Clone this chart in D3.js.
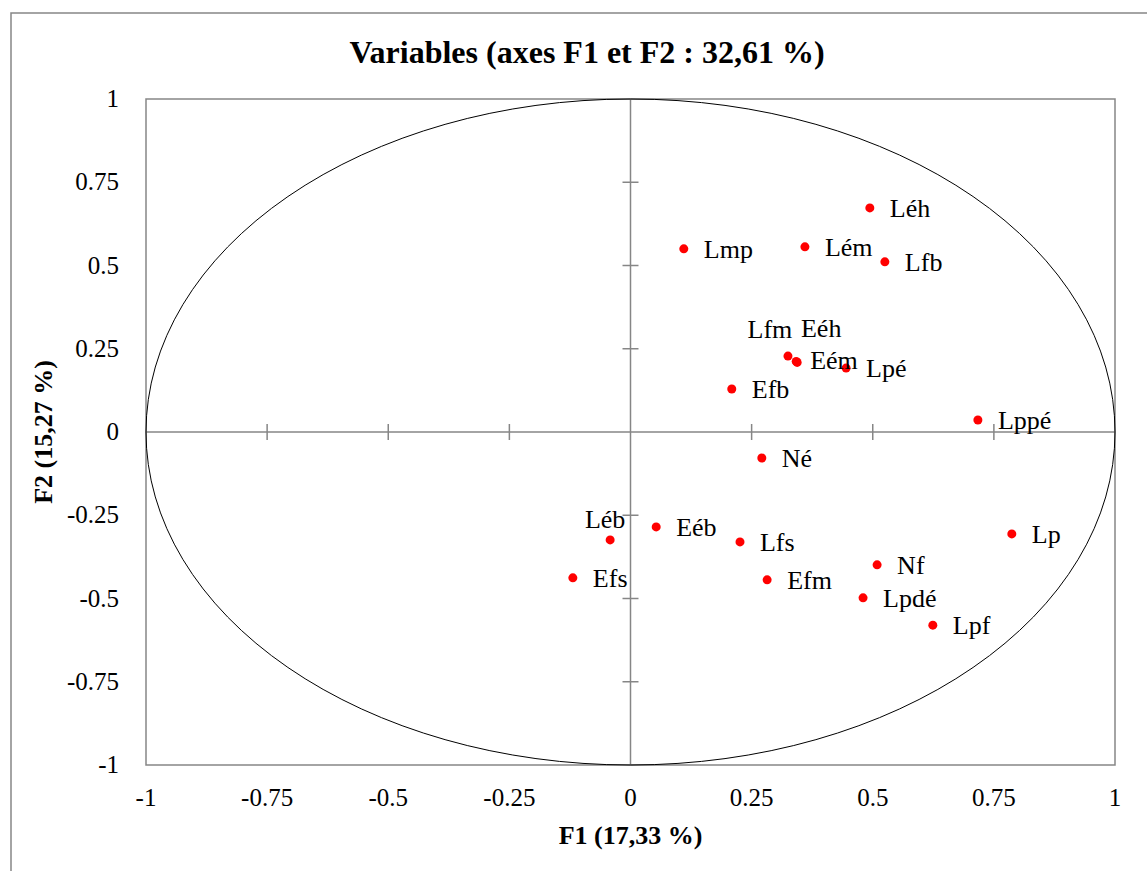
<!DOCTYPE html>
<html><head><meta charset="utf-8">
<script src="https://cdn.jsdelivr.net/npm/d3@7"></script>
<style>body{margin:0;background:#fff} svg{display:block}</style>
</head><body>
<script>
// ---- data ----
const names = ["Léh","Lmp","Lém","Lfb","Lfm","Eéh","Eém","Lpé","Efb","Lppé","Né","Léb","Eéb","Lfs","Efs","Efm","Nf","Lpdé","Lpf","Lp"];
const f1 = [0.494,0.110,0.360,0.525,0.325,0.342,0.344,0.445,0.209,0.717,0.271,-0.042,0.053,0.226,-0.119,0.282,0.509,0.480,0.624,0.787];
const f2 = [0.673,0.550,0.556,0.511,0.228,0.212,0.209,0.192,0.129,0.036,-0.078,-0.324,-0.285,-0.330,-0.438,-0.444,-0.399,-0.498,-0.580,-0.306];
const xTicks = [-1,-0.75,-0.5,-0.25,0,0.25,0.5,0.75,1];
const yTicks = [-1,-0.75,-0.5,-0.25,0,0.25,0.5,0.75,1];
const title = "Variables (axes F1 et F2 : 32,61 %)";
const xTitle = "F1 (17,33 %)";
const yTitle = "F2 (15,27 %)";

// ---- label placement (style) ----
const labelDefault = {dx:20, dy:9, anchor:"start"};
const labelSpecial = {
  "Léb": {dx:-5, dy:-12, anchor:"middle"},
  "Lfm": {dx:-18, dy:-18, anchor:"middle"},
  "Eéh": {dx:25, dy:-24, anchor:"middle"},
  "Eém": {dx:13, dy:7, anchor:"start"}
};

const W = 1147, H = 871;
const svg = d3.select("body").append("svg").attr("width", W).attr("height", H);
const font = "'Liberation Serif','Times New Roman',serif";
const grey = "#868686";

// outer frame
svg.append("rect").attr("x",11).attr("y",13).attr("width",W).attr("height",H)
  .attr("fill","none").attr("stroke",grey).attr("stroke-width",1.5);

const x = d3.scaleLinear().domain([-1,1]).range([146,1115]);
const y = d3.scaleLinear().domain([-1,1]).range([765,99]);

// plot border
svg.append("rect").attr("x",x(-1)).attr("y",y(1))
  .attr("width",x(1)-x(-1)).attr("height",y(-1)-y(1))
  .attr("fill","none").attr("stroke",grey).attr("stroke-width",1.5);

// zero axes
svg.append("line").attr("x1",x(-1)).attr("x2",x(1)).attr("y1",y(0)).attr("y2",y(0))
  .attr("stroke",grey).attr("stroke-width",1.5);
svg.append("line").attr("x1",x(0)).attr("x2",x(0)).attr("y1",y(1)).attr("y2",y(-1))
  .attr("stroke",grey).attr("stroke-width",1.5);

// cross ticks on zero axes
svg.append("g").selectAll("line").data(xTicks.filter(t=>t!==0 && Math.abs(t)!==1)).join("line")
  .attr("x1",d=>x(d)).attr("x2",d=>x(d)).attr("y1",y(0)-8).attr("y2",y(0)+8)
  .attr("stroke",grey).attr("stroke-width",1.5);
svg.append("g").selectAll("line").data(yTicks.filter(t=>t!==0 && Math.abs(t)!==1)).join("line")
  .attr("y1",d=>y(d)).attr("y2",d=>y(d)).attr("x1",x(0)-8).attr("x2",x(0)+8)
  .attr("stroke",grey).attr("stroke-width",1.5);

// circle of correlations
svg.append("ellipse").attr("cx",x(0)).attr("cy",y(0))
  .attr("rx",x(1)-x(0)).attr("ry",y(-1)-y(0))
  .attr("fill","none").attr("stroke","#000").attr("stroke-width",1);

// tick labels
svg.append("g").selectAll("text").data(xTicks).join("text")
  .attr("x",d=>x(d)).attr("y",y(-1)+41).attr("text-anchor","middle")
  .attr("font-family",font).attr("font-size",25).text(d=>String(d));
svg.append("g").selectAll("text").data(yTicks).join("text")
  .attr("x",x(-1)-27).attr("y",d=>y(d)+8).attr("text-anchor","end")
  .attr("font-family",font).attr("font-size",25).text(d=>String(d));

// titles
svg.append("text").attr("x",587).attr("y",63).attr("text-anchor","middle")
  .attr("font-family",font).attr("font-weight","bold").attr("font-size",32).text(title);
svg.append("text").attr("x",x(0)).attr("y",844).attr("text-anchor","middle")
  .attr("font-family",font).attr("font-weight","bold").attr("font-size",26).text(xTitle);
svg.append("text").attr("transform",`translate(52,${y(0)}) rotate(-90)`).attr("text-anchor","middle")
  .attr("font-family",font).attr("font-weight","bold").attr("font-size",26).text(yTitle);

// points
const data = names.map((n,i)=>({n, a:f1[i], b:f2[i]}));
svg.append("g").selectAll("circle").data(data).join("circle")
  .attr("cx",d=>x(d.a)).attr("cy",d=>y(d.b)).attr("r",4.5).attr("fill","#ff0000");
svg.append("g").selectAll("text").data(data).join("text")
  .each(function(d){
    const p = labelSpecial[d.n] || labelDefault;
    d3.select(this).attr("x",x(d.a)+p.dx).attr("y",y(d.b)+p.dy).attr("text-anchor",p.anchor);
  })
  .attr("font-family",font).attr("font-size",26).attr("fill","#000").text(d=>d.n);
</script>
</body></html>
